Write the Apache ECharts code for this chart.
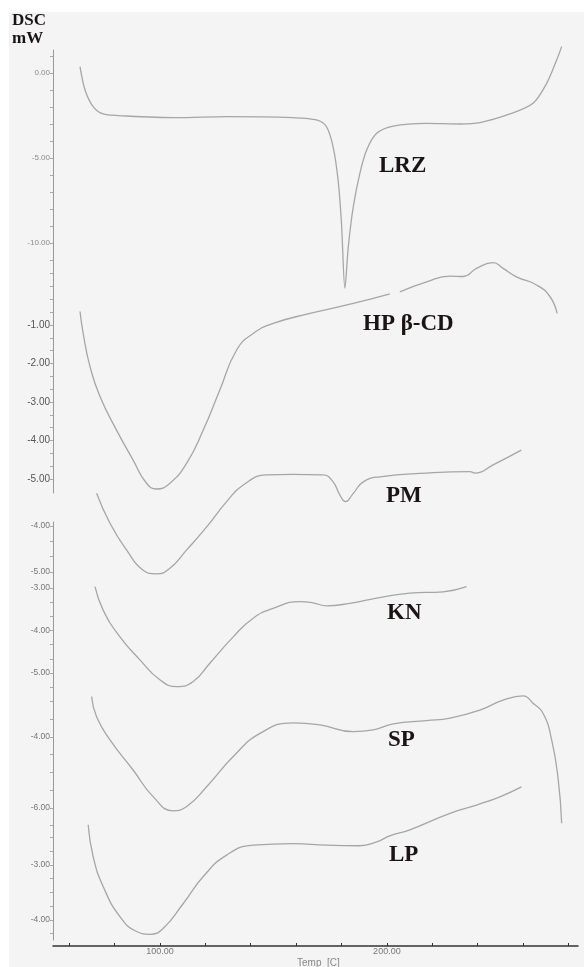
<!DOCTYPE html>
<html>
<head>
<meta charset="utf-8">
<title>DSC thermograms</title>
<script src="https://cdn.jsdelivr.net/npm/echarts@6/dist/echarts.min.js"></script>
<style>
body{margin:0;background:#fff;}
#bg{position:absolute;left:9px;top:12px;width:575px;height:955px;background:#f4f4f4;}
#chart{position:absolute;left:0;top:0;width:584px;height:967px;}
</style>
</head>
<body>
<div id="bg"></div>
<div id="chart"></div>
<script>
// curves: temperature (C) and heat flow (mW)
var lrzT = [64.8, 67.0, 70.6, 75.0, 85.3, 107.4, 129.4, 158.7, 169.0, 173.4, 176.3, 178.5, 180.0, 181.5, 183.0, 185.2, 188.1, 191.1, 195.5, 202.8, 217.5, 232.2, 241.0, 254.2, 264.4, 270.4, 274.8, 277.0];
var lrzV = [0.37, -1.0, -1.98, -2.41, -2.53, -2.63, -2.57, -2.63, -2.76, -3.16, -4.34, -6.29, -8.84, -12.65, -10.22, -7.86, -5.90, -4.53, -3.55, -3.12, -2.96, -3.0, -2.92, -2.41, -1.78, -0.61, 0.76, 1.55];

var hpT = [64.8, 66.2, 69.2, 73.6, 80.9, 88.2, 94.1, 98.5, 104.4, 111.8, 119.1, 126.4, 133.8, 141.1, 149.9, 166.1, 185.2, 201.3, 203.5, 205.7, 217.5, 227.8, 233.6, 239.5, 246.8, 251.2, 257.1, 265.9, 271.8, 275.0];
var hpV = [-0.65, -1.22, -2.08, -2.86, -3.73, -4.51, -5.11, -5.26, -5.11, -4.59, -3.73, -2.69, -1.65, -1.22, -0.96, -0.70, -0.44, -0.19, null, -0.14, 0.12, 0.27, 0.26, 0.47, 0.62, 0.47, 0.25, 0.04, -0.26, -0.70];

var pmT = [72.1, 78.0, 85.3, 92.6, 98.5, 104.4, 111.8, 120.6, 129.4, 136.7, 147.0, 158.7, 171.9, 176.3, 179.3, 181.8, 185.2, 189.6, 196.9, 217.5, 236.6, 238.8, 246.8, 259.2];
var pmV = [-3.29, -3.94, -4.52, -4.96, -5.04, -4.92, -4.52, -4.02, -3.47, -3.11, -2.89, -2.88, -2.89, -3.04, -3.33, -3.47, -3.29, -3.04, -2.93, -2.85, -2.82, -2.85, -2.67, -2.35];

var knT = [71.4, 75.0, 82.4, 91.2, 100.0, 107.4, 114.7, 122.0, 132.3, 141.1, 149.9, 161.7, 167.5, 173.4, 183.7, 195.5, 210.1, 224.8, 235.1];
var knV = [-2.97, -3.52, -4.15, -4.69, -5.16, -5.32, -5.20, -4.77, -4.15, -3.71, -3.48, -3.32, -3.35, -3.42, -3.36, -3.24, -3.12, -3.09, -2.97];

var spT = [69.9, 72.1, 78.0, 88.2, 97.0, 105.9, 111.8, 120.6, 132.3, 144.1, 158.7, 170.5, 185.2, 194.0, 202.8, 217.5, 227.8, 241.0, 251.2, 260.0, 264.4, 268.8, 272.6, 275.5, 277.0];
var spV = [-2.86, -3.43, -4.08, -4.93, -5.68, -6.08, -5.96, -5.40, -4.55, -3.90, -3.60, -3.66, -3.85, -3.80, -3.63, -3.54, -3.47, -3.24, -2.96, -2.84, -3.05, -3.33, -4.08, -5.21, -6.43];

var lpT = [68.4, 70.6, 75.0, 82.4, 89.7, 95.6, 101.5, 110.3, 119.1, 129.4, 141.1, 158.7, 173.4, 188.1, 195.5, 201.3, 210.1, 227.8, 239.5, 249.8, 259.3];
var lpV = [-2.27, -2.85, -3.39, -3.94, -4.21, -4.26, -4.15, -3.70, -3.21, -2.82, -2.64, -2.61, -2.64, -2.65, -2.58, -2.47, -2.36, -2.06, -1.91, -1.76, -1.58];

var names = ['LRZ', 'HP β-CD', 'PM', 'KN', 'SP', 'LP'];

// tick labels
var xLabels = [100, 200];
var xTicks = [60, 80, 100, 120, 140, 160, 180, 200, 220, 240, 260, 280];
var yLabels = [[0, -5, -10], [-1, -2, -3, -4, -5], [-4, -5], [-3, -4, -5], [-4, -6], [-3, -4]];

function steps(a, b, s) {
  var out = [];
  for (var v = a; v >= b - 1e-9; v -= s) out.push(+v.toFixed(4));
  return out;
}
var yTicks = [steps(1, -11, 1), steps(0.333, -5.333, 1 / 3), steps(-4, -5.2, 1 / 3), steps(-2.667, -5.667, 1 / 3), steps(-3, -6.5, 0.5), steps(-2.5, -4.25, 0.25)];

// panel layout: [top, bottom, ymax, ymin]
var panels = [
  [50, 262, 1.353, -11.118],
  [262, 493, 0.636, -5.364],
  [522, 582, -3.913, -5.217],
  [582, 700, -2.859, -5.635],
  [700, 835, -2.958, -6.761],
  [835, 940, -2.455, -4.364]
];
var yFont = [8, 10, 8.5, 8.5, 8.5, 8.5];
var yColor = ['#8a8a8a', '#555', '#777', '#777', '#777', '#777'];
var smoothing = [0.3, 0.5, 0.5, 0.5, 0.5, 0.5];

var curves = [[lrzT, lrzV], [hpT, hpV], [pmT, pmV], [knT, knV], [spT, spV], [lpT, lpV]];

var grids = [], xAxes = [], yAxes = [], series = [];
panels.forEach(function (p, i) {
  grids.push({left: 53, right: 6, top: p[0], height: p[1] - p[0]});
  var last = i === panels.length - 1;
  xAxes.push({
    gridIndex: i, type: 'value', min: 52.9, max: 284.2, show: last,
    offset: 6,
    axisLine: {onZero: false, lineStyle: {color: '#333', width: 1.5}},
    axisTick: {show: true, inside: true, length: 3, customValues: xTicks, lineStyle: {color: '#333'}},
    axisLabel: {customValues: xLabels, formatter: function (v) { return v.toFixed(2); }, fontSize: 9, color: '#777', margin: 1, fontFamily: 'Arial'},
    splitLine: {show: false}
  });
  yAxes.push({
    gridIndex: i, type: 'value', min: p[3], max: p[2],
    axisLine: {show: true, onZero: false, lineStyle: {color: '#999', width: 1}},
    axisTick: {show: true, length: 3, customValues: yTicks[i], lineStyle: {color: '#aaa'}},
    axisLabel: {customValues: yLabels[i], formatter: function (v) { return v.toFixed(2); }, fontSize: yFont[i], color: yColor[i], margin: 3, fontFamily: 'Arial'},
    splitLine: {show: false}
  });
  var c = curves[i];
  series.push({
    name: names[i], type: 'line', xAxisIndex: i, yAxisIndex: i,
    data: c[0].map(function (t, k) { return [t, c[1][k]]; }),
    showSymbol: false, smooth: smoothing[i], clip: false, connectNulls: false,
    lineStyle: {color: '#a6a6a6', width: 1.3}
  });
});

function label(txt, x, y, size) {
  return {type: 'text', x: x, y: y, style: {text: txt, fill: '#1c1414', font: 'bold ' + size + 'px "Liberation Serif", serif', verticalAlign: 'middle'}};
}

var chart = echarts.init(document.getElementById('chart'));
chart.setOption({
  animation: false,
  grid: grids,
  xAxis: xAxes,
  yAxis: yAxes,
  series: series,
  graphic: [
    label('DSC', 12, 21, 17),
    label('mW', 12, 39, 17),
    label('LRZ', 379, 166, 23),
    label('HP β-CD', 363, 324, 23),
    label('PM', 386, 496, 23),
    label('KN', 387, 613, 23),
    label('SP', 388, 740, 23),
    label('LP', 389, 855, 23),
    {type: 'text', x: 297, y: 958, style: {text: 'Temp  [C]', fill: '#888', font: '10px Arial'}}
  ]
});
</script>
</body>
</html>
